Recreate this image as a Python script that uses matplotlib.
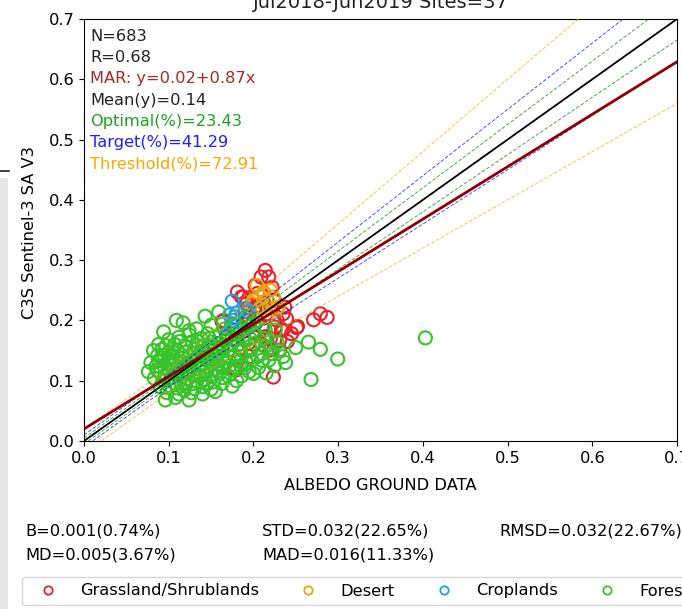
import numpy as np
import matplotlib
matplotlib.use("Agg")
import matplotlib.pyplot as plt
from matplotlib.lines import Line2D
from matplotlib.patches import Rectangle

W, H = 682, 609
DPI = 100
FS = 11.7

# ---------------- data ----------------
grass_x = [0.214, 0.218, 0.209, 0.222, 0.202, 0.181, 0.186, 0.198, 0.225, 0.271,
           0.279, 0.287, 0.252, 0.245, 0.239, 0.233, 0.231, 0.2235, 0.180, 0.182,
           0.237, 0.235, 0.163, 0.168, 0.194, 0.2196, 0.214, 0.2255, 0.210, 0.202,
           0.216, 0.178, 0.188, 0.178, 0.1645, 0.231, 0.251, 0.235, 0.195, 0.205,
           0.228, 0.212, 0.190, 0.200, 0.220, 0.185, 0.172, 0.195, 0.210, 0.240,
           0.205, 0.192]
grass_y = [0.283, 0.272, 0.272, 0.255, 0.258, 0.247, 0.239, 0.239, 0.233, 0.201,
           0.211, 0.205, 0.190, 0.178, 0.203, 0.184, 0.167, 0.106, 0.118, 0.134,
           0.222, 0.211, 0.198, 0.173, 0.162, 0.151, 0.173, 0.189, 0.189, 0.222,
           0.211, 0.167, 0.239, 0.120, 0.200, 0.151, 0.188, 0.184, 0.205, 0.200,
           0.200, 0.230, 0.215, 0.180, 0.170, 0.185, 0.150, 0.140, 0.160, 0.165,
           0.245, 0.228]

desert_x = [0.204, 0.212, 0.202, 0.216, 0.2235, 0.229, 0.210, 0.219, 0.198, 0.212,
            0.200, 0.2275, 0.208, 0.220, 0.215]
desert_y = [0.258, 0.247, 0.233, 0.233, 0.239, 0.222, 0.222, 0.220, 0.228, 0.244,
            0.233, 0.217, 0.220, 0.250, 0.205]

crop_x = [0.175, 0.172, 0.178, 0.174, 0.176, 0.170, 0.190, 0.194, 0.176, 0.180]
crop_y = [0.232, 0.209, 0.206, 0.195, 0.184, 0.175, 0.220, 0.214, 0.200, 0.212]

forest_x = [
    0.109, 0.117, 0.143, 0.159, 0.094, 0.150, 0.133, 0.166, 0.178, 0.124,
    0.100, 0.112, 0.124, 0.138, 0.146, 0.155, 0.168, 0.180, 0.088, 0.128,
    0.160, 0.174, 0.107, 0.119, 0.140, 0.150,
    0.082, 0.092, 0.100, 0.110, 0.120, 0.130, 0.140, 0.150, 0.160, 0.170,
    0.095, 0.105, 0.115, 0.125, 0.135, 0.145, 0.155, 0.165, 0.178,
    0.079, 0.088, 0.098, 0.108, 0.118, 0.128, 0.138, 0.148, 0.158, 0.168,
    0.085, 0.095, 0.105, 0.115, 0.125, 0.135, 0.145, 0.155, 0.165, 0.176,
    0.076, 0.090, 0.100, 0.110, 0.120, 0.130, 0.140, 0.150, 0.160, 0.170,
    0.083, 0.093, 0.103, 0.113, 0.123, 0.133, 0.143, 0.153, 0.163, 0.175,
    0.090, 0.100, 0.110, 0.120, 0.130, 0.140, 0.150, 0.098, 0.112, 0.127,
    0.140, 0.155, 0.096, 0.124, 0.108, 0.118,
    0.087, 0.097, 0.113, 0.133, 0.147, 0.163, 0.175, 0.103, 0.123, 0.143,
    0.163, 0.108, 0.128, 0.145, 0.185, 0.195, 0.205, 0.220, 0.212, 0.196,
    0.188, 0.180, 0.192, 0.235, 0.238,
    0.091, 0.101, 0.116, 0.131, 0.151, 0.171, 0.086, 0.106, 0.121, 0.136,
    0.156, 0.096, 0.116, 0.136, 0.158, 0.104, 0.134, 0.148, 0.168, 0.118,
    0.190, 0.202, 0.214, 0.222, 0.210, 0.198, 0.190, 0.206, 0.218, 0.228,
    0.197, 0.185, 0.180, 0.226, 0.214, 0.202, 0.195, 0.186, 0.230, 0.215,
    0.200, 0.186, 0.172, 0.182, 0.210, 0.225, 0.192, 0.200,
    0.2995, 0.268, 0.279, 0.265, 0.250, 0.403]
forest_y = [
    0.200, 0.196, 0.207, 0.214, 0.181, 0.192, 0.186, 0.186, 0.192, 0.183,
    0.168, 0.172, 0.176, 0.170, 0.178, 0.172, 0.168, 0.176, 0.160, 0.165,
    0.162, 0.160, 0.160, 0.158, 0.158, 0.164,
    0.150, 0.152, 0.148, 0.150, 0.147, 0.152, 0.148, 0.150, 0.146, 0.150,
    0.142, 0.140, 0.143, 0.140, 0.142, 0.139, 0.141, 0.137, 0.142,
    0.130, 0.133, 0.131, 0.134, 0.130, 0.133, 0.129, 0.132, 0.128, 0.131,
    0.124, 0.122, 0.125, 0.121, 0.124, 0.120, 0.123, 0.119, 0.122, 0.118,
    0.115, 0.113, 0.116, 0.112, 0.115, 0.111, 0.114, 0.110, 0.112, 0.108,
    0.104, 0.101, 0.105, 0.100, 0.103, 0.099, 0.102, 0.098, 0.0955, 0.091,
    0.090, 0.092, 0.088, 0.091, 0.087, 0.090, 0.086, 0.080, 0.078, 0.080,
    0.078, 0.082, 0.068, 0.068, 0.072, 0.084,
    0.142, 0.158, 0.165, 0.158, 0.155, 0.155, 0.170, 0.128, 0.118, 0.117,
    0.105, 0.095, 0.095, 0.094, 0.125, 0.115, 0.140, 0.155, 0.170, 0.170,
    0.175, 0.100, 0.130, 0.140, 0.130,
    0.137, 0.136, 0.137, 0.146, 0.144, 0.140, 0.118, 0.119, 0.127, 0.126,
    0.134, 0.107, 0.107, 0.108, 0.116, 0.153, 0.165, 0.170, 0.178, 0.097,
    0.167, 0.162, 0.157, 0.145, 0.134, 0.134, 0.122, 0.122, 0.134, 0.163,
    0.151, 0.151, 0.134, 0.184, 0.184, 0.178, 0.190, 0.140, 0.150, 0.113,
    0.112, 0.108, 0.125, 0.160, 0.145, 0.125, 0.205, 0.195,
    0.136, 0.102, 0.152, 0.164, 0.155, 0.171]

categories = ["Grassland/Shrublands", "Desert", "Croplands", "Forest"]
cat_colors = ["#e4222a", "#e6a412", "#1ea5e0", "#38c22c"]

mar_intercept, mar_slope = 0.02, 0.87
# GCOS requirement bands: (absolute floor, relative fraction)
req_names = ["Optimal", "Target", "Threshold"]
req_abs = [0.005, 0.01, 0.02]
req_rel = [0.05, 0.10, 0.20]
req_colors = ["green", "blue", "orange"]

info_texts = ["N=683", "R=0.68", "MAR: y=0.02+0.87x", "Mean(y)=0.14",
              "Optimal(%)=23.43", "Target(%)=41.29", "Threshold(%)=72.91"]
info_colors = ["#222222", "#222222", "#a52a2a", "#222222",
               "#22a022", "#2020ff", "#ffa500"]

stats_row1 = ["B=0.001(0.74%)", "STD=0.032(22.65%)", "RMSD=0.032(22.67%)"]
stats_row2 = ["MD=0.005(3.67%)", "MAD=0.016(11.33%)"]

title = "Jul2018-Jun2019 Sites=37"
xlabel = "ALBEDO GROUND DATA"
ylabel = "C3S Sentinel-3 SA V3"
ticks = [0.0, 0.1, 0.2, 0.3, 0.4, 0.5, 0.6, 0.7]

# ---------------- figure ----------------
fig = plt.figure(figsize=(W / DPI, H / DPI), dpi=DPI)

def fx(px):
    return px / W

def fy(py):
    return 1 - py / H

# screenshot artefact strip on the left edge
fig.patches.append(Rectangle((0, 0), fx(8), fy(178), transform=fig.transFigure,
                             facecolor="#e8e8e8", edgecolor="none", zorder=0))
fig.add_artist(Line2D([0, fx(9)], [fy(170.5), fy(170.5)], transform=fig.transFigure,
                      color="#222222", lw=1.2))

ax_l, ax_r, ax_t, ax_b = 84, 677, 19, 441
ax = fig.add_axes([fx(ax_l), fy(ax_b), (ax_r - ax_l) / W, (ax_b - ax_t) / H])

sets = [(grass_x, grass_y), (desert_x, desert_y), (crop_x, crop_y), (forest_x, forest_y)]
for (xs, ys), c in zip(sets, cat_colors):
    ax.scatter(xs, ys, s=88, facecolors="none", edgecolors=c, linewidths=1.5, zorder=2)

xl = np.linspace(0, 0.7, 400)
for a, r, c in zip(req_abs, req_rel, req_colors):
    band = np.maximum(a, r * xl)
    ax.plot(xl, xl + band, ls=(0, (4, 2)), color=c, lw=0.65, alpha=0.75, zorder=3)
    ax.plot(xl, xl - band, ls=(0, (4, 2)), color=c, lw=0.65, alpha=0.75, zorder=3)
ax.plot(xl, xl, color="black", lw=1.3, zorder=4)
ax.plot(xl, mar_intercept + mar_slope * xl, color="#8b0000", lw=2.0, zorder=5)

ax.set_xlim(0, 0.7)
ax.set_ylim(0, 0.7)
ax.set_xticks(ticks)
ax.set_yticks(ticks)
ax.set_xticklabels([f"{t:.1f}" for t in ticks], fontsize=FS)
ax.set_yticklabels([f"{t:.1f}" for t in ticks], fontsize=FS)

for i, (t, c) in enumerate(zip(info_texts, info_colors)):
    fig.text(fx(90), fy(40.7 + 21.33 * i), t, color=c, fontsize=FS,
             ha="left", va="baseline")

fig.text(fx(380.5), fy(8.5), title, fontsize=14, ha="center", va="baseline",
         color="#222222")
fig.text(fx(380.5), fy(490), xlabel, fontsize=FS, ha="center", va="baseline")
fig.text(fx(30), fy(233), ylabel, fontsize=FS, ha="center", va="center", rotation=90)

for t, px in zip(stats_row1, [25, 262, 499]):
    fig.text(fx(px), fy(536), t, fontsize=FS, ha="left", va="baseline")
for t, px in zip(stats_row2, [25, 262]):
    fig.text(fx(px), fy(560), t, fontsize=FS, ha="left", va="baseline")

handles = [Line2D([], [], ls="none", marker="o", markersize=6, markerfacecolor="none",
                  markeredgecolor=c, markeredgewidth=1.3) for c in cat_colors]
fig.legend(handles, categories, loc="upper left", bbox_to_anchor=(fx(22), fy(577)),
           ncol=4, fontsize=FS, borderaxespad=0, handlelength=2.4,
           handletextpad=0.8, columnspacing=1.8)

fig.savefig("out.png", dpi=DPI)
